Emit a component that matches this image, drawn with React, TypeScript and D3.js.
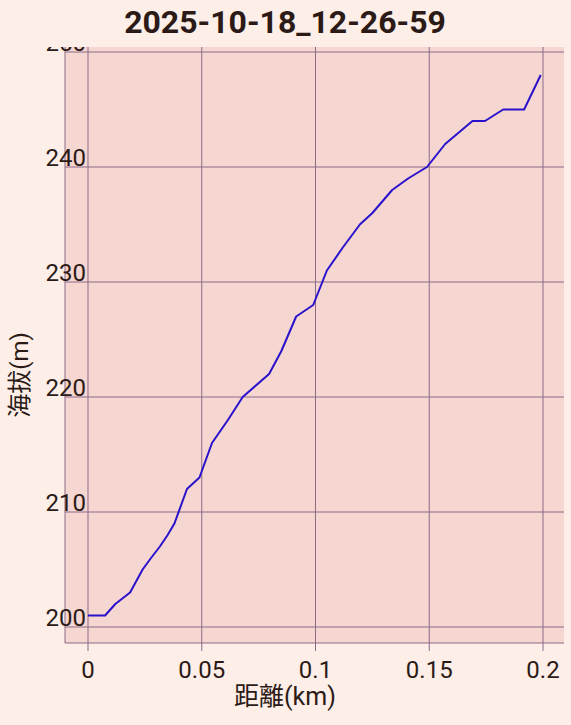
import React from "react";
import * as d3 from "d3";

const title = "2025-10-18_12-26-59";
const xLabel = "距離(km)";
const yLabel = "海拔(m)";
const distanceKm = [0, 0.0075, 0.012, 0.0185, 0.024, 0.0277, 0.0316, 0.035, 0.038, 0.0435, 0.049, 0.0545, 0.0615, 0.068, 0.0796, 0.085, 0.0915, 0.099, 0.105, 0.112, 0.1195, 0.125, 0.1337, 0.1407, 0.149, 0.157, 0.169, 0.1745, 0.1825, 0.1917, 0.199];
const elevationM = [201, 201, 202, 203, 205, 206, 207, 208, 209, 212, 213, 216, 218, 220, 222, 224, 227, 228, 231, 233, 235, 236, 238, 239, 240, 242, 244, 244, 245, 245, 248];
const xTicks = [0, 0.05, 0.1, 0.15, 0.2];
const yTicks = [200, 210, 220, 230, 240, 250];

const W = 571, H = 725;
const plot = { left: 65, right: 564, top: 47, bottom: 643 };
const font = "Roboto, 'Noto Sans CJK JP', sans-serif";
const txt = "#2b1a16";
const grid = "#8c6a88";

export default function App() {
  const x = d3.scaleLinear().domain([0, 0.2]).range([88, 543]);
  const y = d3.scaleLinear().domain([200, 250]).range([627, 52]);
  const line = d3.line<number>().x((_, i) => x(distanceKm[i])).y((e) => y(e));
  return (
    <svg width={W} height={H} style={{ position: "absolute", left: 0, top: 0 }} fontFamily={font}>
      <rect x={0} y={0} width={W} height={H} fill="#fdeee8" />
      <rect x={plot.left} y={plot.top} width={plot.right - plot.left} height={plot.bottom - plot.top} fill="#f5d6d0" />
      {xTicks.map((t) => (
        <line key={"gx" + t} x1={x(t)} x2={x(t)} y1={plot.top} y2={plot.bottom + 8} stroke={grid} strokeWidth={1} />
      ))}
      {yTicks.map((t) => (
        <line key={"gy" + t} x1={plot.left} x2={plot.right} y1={y(t)} y2={y(t)} stroke={grid} strokeWidth={1} />
      ))}
      <line x1={plot.left} x2={plot.left} y1={plot.top} y2={plot.bottom} stroke={grid} strokeWidth={1} />
      <line x1={plot.left} x2={plot.right} y1={plot.bottom} y2={plot.bottom} stroke={grid} strokeWidth={1} />
      <path d={line(elevationM) || ""} fill="none" stroke="#2a12cc" strokeWidth={2} strokeLinejoin="round" />
      {yTicks.map((t) => (
        <text key={"ty" + t} x={86} y={y(t) - 1} textAnchor="end" fontSize={24} fill={txt}>{t}</text>
      ))}
      <rect x={0} y={0} width={W} height={plot.top} fill="#fdeee8" />
      {xTicks.map((t) => (
        <text key={"tx" + t} x={x(t)} y={678} textAnchor="middle" fontSize={24} fill={txt}>{t}</text>
      ))}
      <text x={285} y={705} textAnchor="middle" fontSize={25} fill={txt}>{xLabel}</text>
      <text transform={`translate(28,375) rotate(-90)`} textAnchor="middle" fontSize={24} fill={txt}>{yLabel}</text>
      <text x={285} y={33} textAnchor="middle" fontSize={32} fontWeight="bold" fill={txt}>{title}</text>
    </svg>
  );
}
